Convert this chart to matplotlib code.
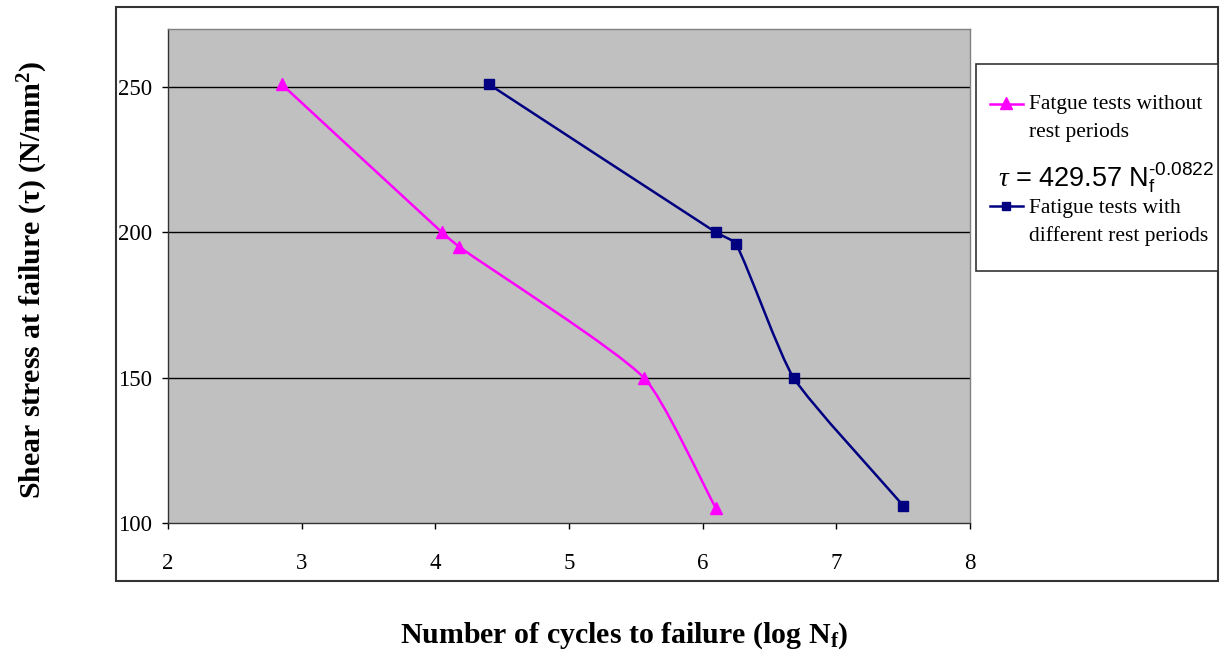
import matplotlib
matplotlib.use("Agg")
import math
import matplotlib.pyplot as plt
from matplotlib.path import Path
from matplotlib.patches import PathPatch, Rectangle
from matplotlib.lines import Line2D

# ---- data ----
x_without = [2.85, 4.05, 4.18, 5.56, 6.10]
y_without = [251, 200, 195, 150, 105]
x_with = [4.40, 6.10, 6.25, 6.68, 7.50]
y_with = [251, 200, 196, 150, 106]
label_without = ["Fatgue tests without", "rest periods"]
label_with = ["Fatigue tests with", "different rest periods"]
x_ticks = [2, 3, 4, 5, 6, 7, 8]
y_ticks = [100, 150, 200, 250]

PINK = "#FF00FF"
NAVY = "#000080"

plt.rcParams['mathtext.fontset'] = 'custom'
plt.rcParams['mathtext.rm'] = 'Liberation Sans'
plt.rcParams['mathtext.it'] = 'Liberation Serif:italic'
plt.rcParams['mathtext.sf'] = 'Liberation Sans'

W, H = 1231, 656
fig = plt.figure(figsize=(W / 100, H / 100), dpi=100)

def fx(px):
    return px / W

def fy(py):
    return 1 - py / H

# outer chart frame
fig.patches.append(Rectangle((fx(116), fy(581)), fx(1218) - fx(116), fy(7) - fy(581),
                             transform=fig.transFigure, fill=False, edgecolor="#333333",
                             linewidth=1.5, zorder=0))

ax = fig.add_axes([fx(168), fy(523), fx(970) - fx(168), fy(29) - fy(523)])
ax.set_facecolor("#C0C0C0")
ax.set_xlim(2, 8)
ax.set_ylim(100, 270)
ax.set_xticks(x_ticks)
ax.set_yticks(y_ticks)
for s in ax.spines.values():
    s.set_color("#808080")
    s.set_linewidth(1.0)
ax.spines['left'].set_color("#333333")
ax.spines['bottom'].set_color("#333333")
ax.tick_params(direction='out', length=4.3, width=1, color='black', labelsize=16.5)
ax.tick_params(axis='x', pad=17.5)
ax.tick_params(axis='y', pad=7.2)
for lab in ax.get_xticklabels() + ax.get_yticklabels():
    lab.set_family("Liberation Serif")
    lab.set_fontsize(16.5)

for yv in y_ticks[1:]:
    ax.axhline(yv, color="black", linewidth=1.0, zorder=1)

# pixel scale of the data axes (for shape-preserving smoothing)
(x0p, y0p), (x1p, y1p) = ax.transData.transform([(2, 100), (8, 270)])
SX = (x1p - x0p) / 6.0
SY = (y1p - y0p) / 170.0


def smooth_path(xs, ys, k=0.55):
    pts = [(x * SX, y * SY) for x, y in zip(xs, ys)]
    n = len(pts)

    def tangent(i):
        a = pts[max(i - 1, 0)]
        b = pts[min(i + 1, n - 1)]
        dx, dy = b[0] - a[0], b[1] - a[1]
        L = math.hypot(dx, dy) or 1.0
        return dx / L, dy / L

    verts = [pts[0]]
    codes = [Path.MOVETO]
    for i in range(n - 1):
        p1, p2 = pts[i], pts[i + 1]
        d = math.hypot(p2[0] - p1[0], p2[1] - p1[1])
        t1, t2 = tangent(i), tangent(i + 1)
        m = d * k / 3.0
        c1 = (p1[0] + t1[0] * m, p1[1] + t1[1] * m)
        c2 = (p2[0] - t2[0] * m, p2[1] - t2[1] * m)
        verts += [c1, c2, p2]
        codes += [Path.CURVE4] * 3
    verts = [(vx / SX, vy / SY) for vx, vy in verts]
    return Path(verts, codes)


ax.add_patch(PathPatch(smooth_path(x_without, y_without), facecolor='none',
                       edgecolor=PINK, linewidth=1.8, zorder=3))
ax.add_patch(PathPatch(smooth_path(x_with, y_with), facecolor='none',
                       edgecolor=NAVY, linewidth=1.8, zorder=3))
ax.plot(x_without, y_without, linestyle='none', marker='^', markersize=8,
        color=PINK, zorder=4, clip_on=False)
ax.plot(x_with, y_with, linestyle='none', marker='s', markersize=7,
        color=NAVY, zorder=4, clip_on=False)

# axis labels
fig.text(fx(624), fy(636), "Number of cycles to failure (log N$_\\mathregular{f}$)",
         ha='center', va='center', fontsize=21.5, fontweight='bold',
         family='Liberation Serif')
fig.text(fx(33), fy(280), "Shear stress at failure (\u03c4) (N/mm$^\\mathregular{2}$)",
         ha='center', va='center', rotation=90, fontsize=21.5, fontweight='bold',
         family='Liberation Serif')

# legend box
fig.patches.append(Rectangle((fx(976), fy(271)), fx(1218) - fx(976), fy(64) - fy(271),
                             transform=fig.transFigure, facecolor='white',
                             edgecolor="#333333", linewidth=1.2, zorder=5))
fig.lines.append(Line2D([fx(990), fx(1023)], [fy(104), fy(104)], transform=fig.transFigure,
                        color=PINK, linewidth=1.8, zorder=6))
fig.lines.append(Line2D([fx(1006.5)], [fy(103)], transform=fig.transFigure,
                        color=PINK, linestyle='none', marker='^', markersize=8, zorder=6))
fig.lines.append(Line2D([fx(990), fx(1023)], [fy(206), fy(206)], transform=fig.transFigure,
                        color=NAVY, linewidth=1.8, zorder=6))
fig.lines.append(Line2D([fx(1006.5)], [fy(206)], transform=fig.transFigure,
                        color=NAVY, linestyle='none', marker='s', markersize=6, zorder=6))
for txt, py in [(label_without[0], 105), (label_without[1], 133),
                (label_with[0], 208), (label_with[1], 236)]:
    fig.text(fx(1029), fy(py), txt, ha='left', va='center', fontsize=15.5,
             family='Liberation Serif', zorder=6)
fig.text(fx(998), fy(178),
         r"$\tau$ = 429.57 N$_\mathregular{f}^{\text{-0.0822}}$",
         ha='left', va='center', fontsize=19.5, family='Liberation Sans', zorder=6)

fig.savefig("out.png", dpi=100)
